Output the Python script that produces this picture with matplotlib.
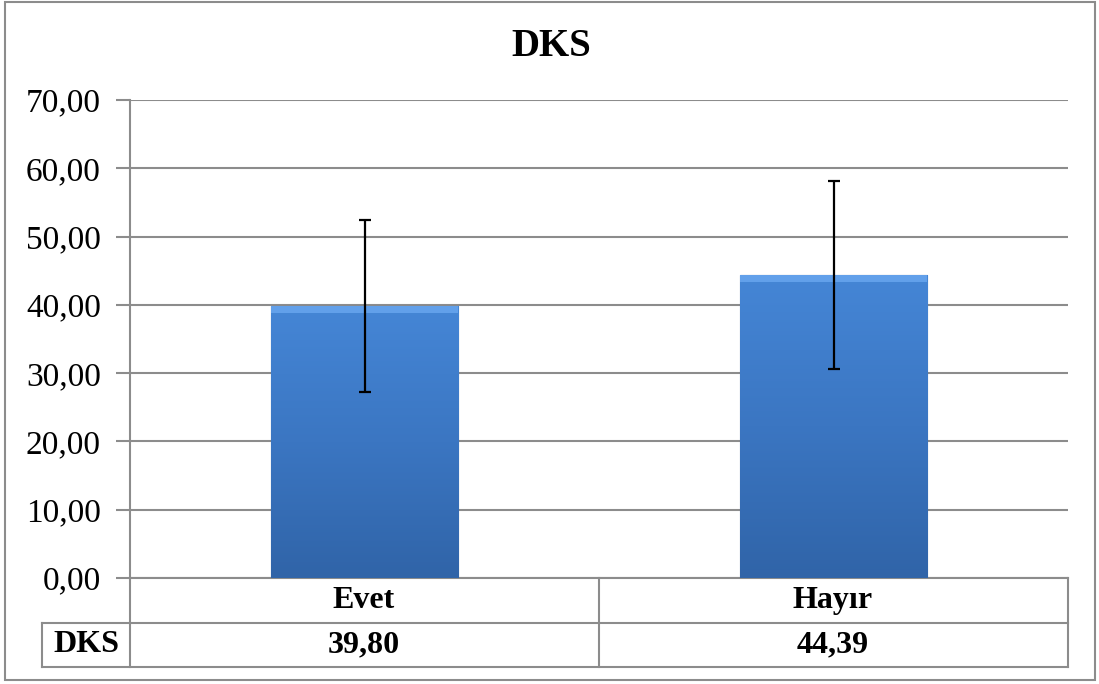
import matplotlib
matplotlib.use('Agg')
import matplotlib.pyplot as plt
import numpy as np
from matplotlib.colors import LinearSegmentedColormap
from matplotlib.lines import Line2D
from matplotlib.patches import Rectangle

categories = ['Evet', 'Hayır']
means = [39.80, 44.39]
errors = [12.6, 13.8]
value_labels = ['39,80', '44,39']
series_name = 'DKS'
title = 'DKS'
yticks = [0, 10, 20, 30, 40, 50, 60, 70]

W, H = 1099, 684
plt.rcParams['font.family'] = ['Liberation Serif', 'DejaVu Serif']

fig = plt.figure(figsize=(W / 100, H / 100), dpi=100)


def fx(px):
    return px / W


def fy(py):
    return 1 - py / H


# plot area in pixels
L, R, T, B = 130, 1068, 100, 578
ax = fig.add_axes([fx(L), fy(B), fx(R - L), (B - T) / H])

x = np.arange(len(categories))
bars = ax.bar(x, means, width=0.4, color='#3d78c6', edgecolor='#2a5590', linewidth=0.8, zorder=3)

# gradient fill inside each bar
cmap = LinearSegmentedColormap.from_list('bar', ['#3064a8', '#3b76c2', '#4586d6'])
grad = np.linspace(0, 1, 256).reshape(-1, 1)
for b in bars:
    x0, y0 = b.get_x(), b.get_y()
    w, h = b.get_width(), b.get_height()
    im = ax.imshow(grad, cmap=cmap, origin='lower', aspect='auto',
                   extent=[x0, x0 + w, y0, y0 + h], zorder=3.5)
    im.set_clip_path(b)
    # light bevel at the top
    ax.add_patch(Rectangle((x0, y0 + h - 1.0), w, 1.0, facecolor='#62a0ea',
                           edgecolor='none', zorder=3.6))
ax.set_xlim(-0.5, len(categories) - 0.5)
ax.set_ylim(0, 70)

ax.errorbar(x, means, yerr=errors, fmt='none', ecolor='black', elinewidth=1.6,
            capsize=4.5, capthick=1.6, zorder=5)

ax.set_yticks(yticks)
ax.set_yticklabels([f'{v:.2f}'.replace('.', ',') for v in yticks], fontsize=24)
ax.set_xticks([])
ax.yaxis.grid(True, color='#8c8c8c', linewidth=1.5, zorder=0)
ax.tick_params(axis='y', length=10, width=1.5, color='#8c8c8c', pad=11)
for s in ['top', 'right']:
    ax.spines[s].set_visible(False)
for s in ['left', 'bottom']:
    ax.spines[s].set_color('#8c8c8c')
    ax.spines[s].set_linewidth(1.5)

fig.text(fx(551), fy(47), title, ha='center', va='center', fontsize=28, fontweight='bold')

# data table under the axis
r1, r2 = 623, 667
hx0 = 42
gray = '#8c8c8c'
segs = [
    ((L, r1), (R, r1)), ((hx0, r2), (R, r2)), ((hx0, r1), (L, r1)),
    ((hx0, r1), (hx0, r2)), ((L, B), (L, r2)), ((599, B), (599, r2)), ((R, B), (R, r2)),
]
for (xa, ya), (xb, yb) in segs:
    fig.add_artist(Line2D([fx(xa), fx(xb)], [fy(ya), fy(yb)], color=gray, linewidth=1.5))

centers = [364, 833]
for cx, cat, val in zip(centers, categories, value_labels):
    fig.text(fx(cx), fy((B + r1) / 2), cat, ha='center', va='center', fontsize=23, fontweight='bold')
    fig.text(fx(cx), fy((r1 + r2) / 2), val, ha='center', va='center', fontsize=23, fontweight='bold')
fig.text(fx((hx0 + L) / 2), fy((r1 + r2) / 2), series_name, ha='center', va='center',
         fontsize=23, fontweight='bold')

# outer chart frame
fig.add_artist(Rectangle((fx(5), fy(680)), fx(1090), (680 - 2) / H, transform=fig.transFigure,
                         facecolor='none', edgecolor=gray, linewidth=1.5))

fig.savefig('out.png', dpi=100)
